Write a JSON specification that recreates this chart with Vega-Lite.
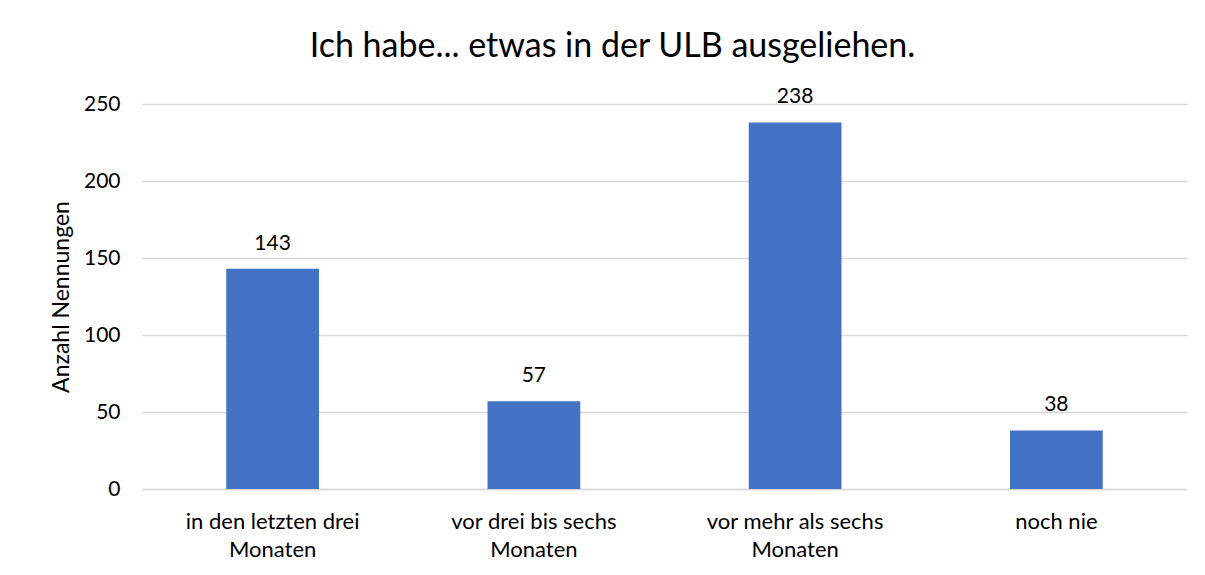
{
  "$schema": "https://vega.github.io/schema/vega-lite/v6.json",
  "width": 1045,
  "height": 385,
  "autosize": {"type": "none"},
  "padding": {"left": 142, "top": 104, "right": 18, "bottom": 86},
  "background": "white",
  "config": {
    "font": "Lato",
    "view": {"stroke": null}
  },
  "title": {
    "text": "Ich habe... etwas in der ULB ausgeliehen.",
    "fontSize": 34,
    "fontWeight": "normal",
    "color": "#000000",
    "anchor": "middle",
    "dx": -52,
    "offset": 22
  },
  "data": {
    "values": [
      {"Kategorie": "in den letzten drei Monaten", "Anzahl": 143},
      {"Kategorie": "vor drei bis sechs Monaten", "Anzahl": 57},
      {"Kategorie": "vor mehr als sechs Monaten", "Anzahl": 238},
      {"Kategorie": "noch nie", "Anzahl": 38}
    ]
  },
  "encoding": {
    "x": {
      "field": "Kategorie",
      "type": "nominal",
      "sort": null,
      "scale": {"paddingInner": 0.645, "paddingOuter": 0.3225},
      "axis": {
        "title": null,
        "labelAngle": 0,
        "labelFontSize": 22,
        "labelColor": "#000000",
        "labelPadding": 22,
        "labelLineHeight": 28,
        "labelExpr": "indexof(datum.label, ' Monaten') > 0 ? [replace(datum.label, ' Monaten', ''), 'Monaten'] : datum.label",
        "ticks": false,
        "domainColor": "#d9d9d9",
        "domainWidth": 1.5,
        "grid": false
      }
    },
    "y": {
      "field": "Anzahl",
      "type": "quantitative",
      "scale": {"domain": [0, 250]},
      "axis": {
        "title": "Anzahl Nennungen",
        "titleFontSize": 23,
        "titleFontWeight": "normal",
        "titleColor": "#000000",
        "titlePadding": 10,
        "values": [0, 50, 100, 150, 200, 250],
        "labelFontSize": 21,
        "labelColor": "#000000",
        "labelPadding": 22,
        "ticks": false,
        "domain": false,
        "gridColor": "#d9d9d9",
        "gridWidth": 1.5
      }
    }
  },
  "layer": [
    {"mark": {"type": "bar", "color": "#4472C4"}},
    {
      "mark": {"type": "text", "dy": -25, "fontSize": 21, "color": "#000000"},
      "encoding": {"text": {"field": "Anzahl", "type": "quantitative"}}
    }
  ]
}
